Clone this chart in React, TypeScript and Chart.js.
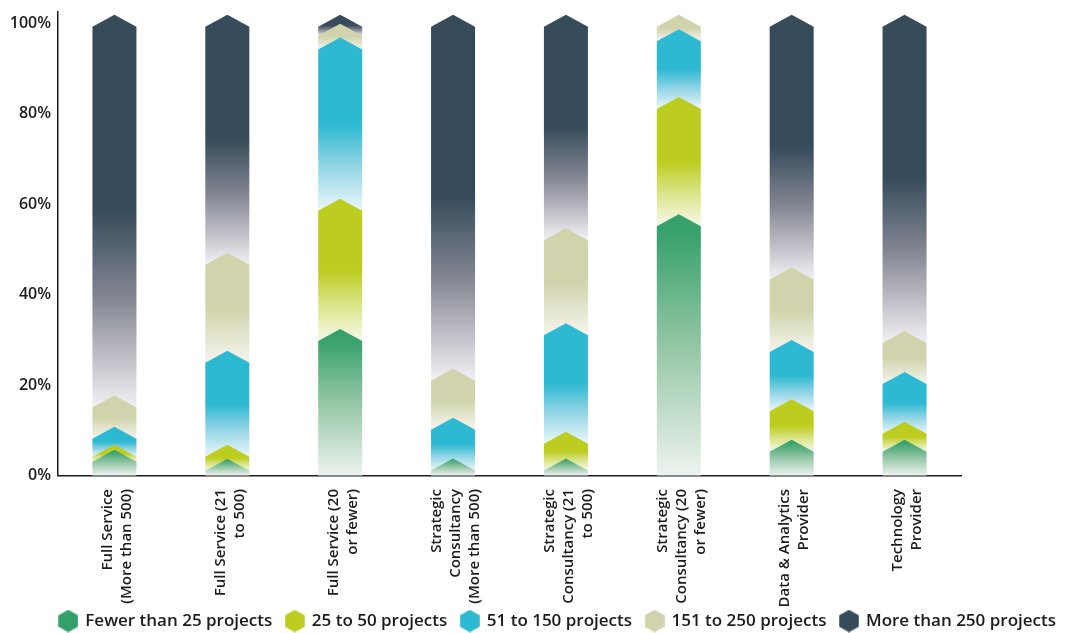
import React, { useEffect, useRef } from "react";
import { Chart, registerables } from "chart.js";

Chart.register(...registerables);

// ---- data ----
const CATEGORIES: string[][] = [
  ["Full Service", "(More than 500)"],
  ["Full Service (21", "to 500)"],
  ["Full Service (20", "or fewer)"],
  ["Strategic", "Consultancy", "(More than 500)"],
  ["Strategic", "Consultancy (21", "to 500)"],
  ["Strategic", "Consultancy (20", "or fewer)"],
  ["Data & Analytics", "Provider"],
  ["Technology", "Provider"],
];

const SERIES_NAMES = [
  "Fewer than 25 projects",
  "25 to 50 projects",
  "51 to 150 projects",
  "151 to 250 projects",
  "More than 250 projects",
];

const FEWER_THAN_25 = [3.8, 1.8, 30.5, 1.9, 1.9, 55.9, 6.0, 6.0];
const FROM_25_TO_50 = [1.1, 3.1, 28.8, 0, 5.9, 25.9, 9.0, 4.0];
const FROM_51_TO_150 = [4.0, 20.8, 35.7, 9.0, 24.0, 15.0, 13.1, 11.0];
const FROM_151_TO_250 = [6.9, 21.7, 3.0, 10.8, 21.0, 3.2, 16.0, 9.1];
const MORE_THAN_250 = [84.2, 52.6, 2.0, 78.3, 47.2, 0, 55.9, 69.9];

const Y_TICKS = [0, 20, 40, 60, 80, 100];
const Y_MAX = 102.5;

// ---- styles ----
const FONT = '"Open Sans", "DejaVu Sans", sans-serif';
const TEXT_COLOR = "#1c1c1c";
const COLORS = ["#33a06a", "#bccd1f", "#2eb9d2", "#d0d3ab", "#374c5b"];
const GRADIENTS: [number, string][][] = [
  [[0, "#31a068"], [0.08, "#3aa26e"], [0.5, "#93c6a5"], [1, "#eef3ef"]],
  [[0, "#bccd1f"], [0.5, "#bccd1f"], [0.75, "#dbe58a"], [1, "#f8f9ea"]],
  [[0, "#2eb9d2"], [0.5, "#2eb9d2"], [0.75, "#95d6e6"], [1, "#ebf7fb"]],
  [[0, "#d0d3ab"], [0.5, "#d0d3ab"], [0.75, "#e3e4cd"], [1, "#f5f5ee"]],
  [[0, "#374c5b"], [0.5, "#374c5b"], [0.72, "#838692"], [0.88, "#c2c2ca"], [1, "#f2f1f5"]],
];

const TIP_ABOVE = 8.5;
const SHOULDER_BELOW = 3.5;

function hexIcon(color: string): HTMLCanvasElement {
  const c = document.createElement("canvas");
  c.width = 20;
  c.height = 23;
  const g = c.getContext("2d")!;
  const r = 11.3;
  const cx = 10;
  const cy = 11.5;
  g.beginPath();
  for (let k = 0; k < 6; k++) {
    const a = ((-90 + 60 * k) * Math.PI) / 180;
    const px = cx + r * Math.cos(a);
    const py = cy + r * Math.sin(a);
    if (k === 0) g.moveTo(px, py);
    else g.lineTo(px, py);
  }
  g.closePath();
  g.fillStyle = color;
  g.fill();
  return c;
}

const chevronPlugin = {
  id: "chevronBars",
  afterDatasetsDraw(chart: any) {
    const ctx = chart.ctx;
    const area = chart.chartArea;
    const n = chart.data.datasets.length;
    ctx.save();
    for (let d = n - 1; d >= 0; d--) {
      const meta = chart.getDatasetMeta(d);
      if (meta.hidden) continue;
      meta.data.forEach((el: any) => {
        const { x, y, base, width } = el.getProps(["x", "y", "base", "width"], true);
        if (Math.abs(base - y) < 0.01) return;
        const half = width / 2;
        const tip = y - TIP_ABOVE;
        const shoulder = y + SHOULDER_BELOW;
        const bottom = Math.min(base + SHOULDER_BELOW, area.bottom);
        const grad = ctx.createLinearGradient(0, tip, 0, Math.max(bottom, tip + 1));
        GRADIENTS[d].forEach(([o, c]) => grad.addColorStop(o, c));
        ctx.beginPath();
        ctx.moveTo(x - half, bottom);
        ctx.lineTo(x - half, shoulder);
        ctx.lineTo(x, tip);
        ctx.lineTo(x + half, shoulder);
        ctx.lineTo(x + half, bottom);
        ctx.closePath();
        ctx.fillStyle = grad;
        ctx.fill();
      });
    }
    ctx.restore();
  },
};

const xLabelPlugin = {
  id: "xLabels",
  afterDraw(chart: any) {
    const ctx = chart.ctx;
    const xs = chart.scales.x;
    const top = chart.chartArea.bottom + 13.5;
    ctx.save();
    ctx.font = `600 15px ${FONT}`;
    ctx.fillStyle = TEXT_COLOR;
    ctx.textAlign = "right";
    ctx.textBaseline = "middle";
    (chart.data.labels as any[]).forEach((lab, i) => {
      const lines: string[] = Array.isArray(lab) ? lab : [String(lab)];
      const x0 = xs.getPixelForTick(i) + 3;
      const cnt = lines.length;
      lines.forEach((line, k) => {
        const lx = x0 + (k - (cnt - 1) / 2) * 19;
        ctx.save();
        ctx.translate(lx, top);
        ctx.rotate(-Math.PI / 2);
        ctx.fillText(line, 0, 0);
        ctx.restore();
      });
    });
    ctx.restore();
  },
};

const noPad = (s: any) => {
  s.paddingTop = 0;
  s.paddingBottom = 0;
};

export default function App() {
  const ref = useRef<HTMLCanvasElement>(null);

  useEffect(() => {
    const seriesData = [FEWER_THAN_25, FROM_25_TO_50, FROM_51_TO_150, FROM_151_TO_250, MORE_THAN_250];
    const icons = COLORS.map(hexIcon);
    const chart = new Chart(ref.current!, {
      type: "bar",
      data: {
        labels: CATEGORIES,
        datasets: seriesData.map((data, i) => ({
          label: SERIES_NAMES[i],
          data,
          backgroundColor: "rgba(0,0,0,0)",
          borderWidth: 0,
          stack: "s",
          barPercentage: 0.39,
          categoryPercentage: 1,
        })),
      },
      options: {
        responsive: true,
        maintainAspectRatio: false,
        animation: false,
        layout: { padding: { top: 12, bottom: -6.5, left: 0, right: -5 } },
        scales: {
          x: {
            stacked: true,
            grid: { display: false, drawTicks: false },
            border: { display: true, color: "#1c1c1c", width: 1.5 },
            ticks: { display: false },
            afterFit: (s: any) => {
              s.height = 123;
            },
          },
          y: {
            stacked: true,
            min: 0,
            max: Y_MAX,
            grid: { display: false, drawTicks: false },
            border: { display: true, color: "#1c1c1c", width: 1.5 },
            afterBuildTicks: (s: any) => {
              s.ticks = [...Y_TICKS.map((v) => ({ value: v })), { value: Y_MAX }];
            },
            ticks: {
              padding: 7,
              color: TEXT_COLOR,
              font: { family: FONT, size: 16, weight: "600" as any },
              callback: (v: any) => (Y_TICKS.includes(v) ? `${v}%` : null),
            },
            afterFit: (s: any) => {
              s.width = 58;
              noPad(s);
            },
          },
          y2: {
            type: "linear",
            position: "right",
            display: true,
            grid: { display: false, drawTicks: false },
            border: { display: false },
            ticks: { display: false },
            afterFit: (s: any) => {
              s.width = 109;
              noPad(s);
            },
          },
        },
        plugins: {
          tooltip: { enabled: false },
          legend: {
            position: "bottom",
            align: "end",
            labels: {
              usePointStyle: true,
              boxWidth: 17,
              padding: 14,
              color: TEXT_COLOR,
              font: { family: FONT, size: 17, weight: "600" as any },
              generateLabels: (c: any) => {
                const items = (Chart.defaults.plugins.legend.labels as any).generateLabels(c);
                return items.map((it: any, i: number) => ({
                  ...it,
                  pointStyle: icons[i],
                  fillStyle: COLORS[i],
                  strokeStyle: "rgba(0,0,0,0)",
                  lineWidth: 0,
                }));
              },
            },
          },
        },
      } as any,
      plugins: [chevronPlugin, xLabelPlugin],
    });
    return () => chart.destroy();
  }, []);

  return (
    <div style={{ position: "fixed", left: 0, top: 0, width: 1065, height: 633, background: "#fff" }}>
      <canvas ref={ref} />
    </div>
  );
}
